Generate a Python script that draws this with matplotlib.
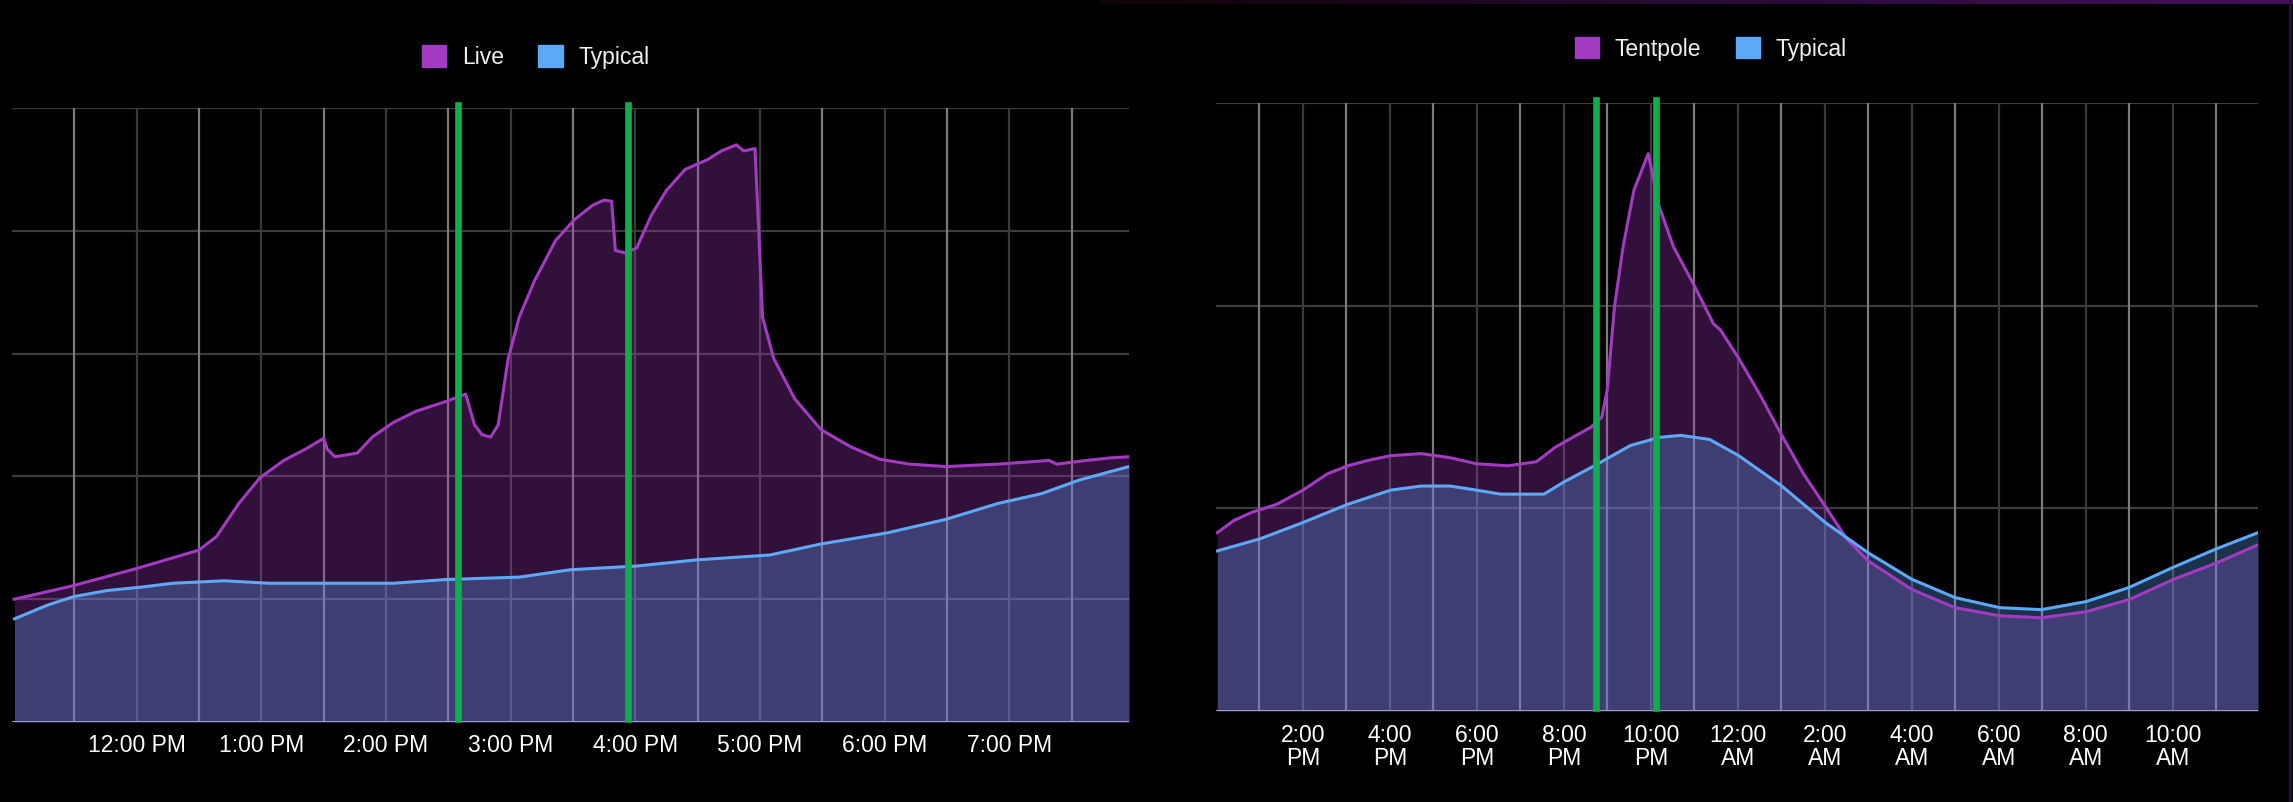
import numpy as np
import matplotlib.pyplot as plt
from matplotlib.patches import Patch
from matplotlib.colors import LinearSegmentedColormap

plt.rcParams['font.family'] = ['Liberation Sans', 'DejaVu Sans']

# colours
purple = '#a33bc2'
blue = '#5ea8f8'
green = '#0eae4a'

# ---- left chart: Live vs Typical (hours of day) ----
live_hours = [11.02, 11.49, 12.00, 12.50, 12.64, 12.82, 12.99, 13.18, 13.35, 13.50,
              13.53, 13.59, 13.77, 13.89, 14.06, 14.24, 14.48, 14.64, 14.71, 14.77,
              14.84, 14.90, 14.98, 15.07, 15.19, 15.36, 15.51, 15.66, 15.75, 15.81,
              15.84, 15.92, 16.01, 16.13, 16.25, 16.40, 16.58, 16.69, 16.81, 16.87,
              16.96, 16.99, 17.02, 17.11, 17.28, 17.49, 17.73, 17.96, 18.20, 18.49,
              18.91, 19.32, 19.38, 19.62, 19.80, 19.96]
live_vals = [1.00, 1.11, 1.25, 1.40, 1.51, 1.78, 1.99, 2.13, 2.22, 2.31,
             2.22, 2.16, 2.19, 2.32, 2.44, 2.53, 2.61, 2.67, 2.42, 2.34,
             2.32, 2.42, 2.96, 3.30, 3.59, 3.92, 4.09, 4.21, 4.25, 4.24,
             3.84, 3.82, 3.86, 4.13, 4.33, 4.50, 4.58, 4.65, 4.70, 4.65,
             4.67, 4.00, 3.30, 2.96, 2.63, 2.38, 2.24, 2.14, 2.10, 2.08,
             2.10, 2.13, 2.10, 2.13, 2.15, 2.16]

typ_left_hours = [11.02, 11.28, 11.49, 11.76, 12.05, 12.29, 12.70, 13.06, 13.59, 14.06,
                  14.48, 15.07, 15.48, 16.01, 16.49, 17.08, 17.49, 18.02, 18.49, 18.91,
                  19.26, 19.56, 19.96]
typ_left_vals = [0.84, 0.95, 1.02, 1.07, 1.10, 1.13, 1.15, 1.13, 1.13, 1.13,
                 1.16, 1.18, 1.24, 1.27, 1.32, 1.36, 1.45, 1.54, 1.65, 1.78,
                 1.86, 1.97, 2.08]

left_ticks = [12, 13, 14, 15, 16, 17, 18, 19]
left_labels = ['12:00 PM', '1:00 PM', '2:00 PM', '3:00 PM', '4:00 PM',
               '5:00 PM', '6:00 PM', '7:00 PM']
left_markers = [14.58, 15.94]

# ---- right chart: Tentpole vs Typical (hours from midnight, day 1) ----
tent_hours = [12.03, 12.41, 12.82, 13.40, 14.00, 14.56, 15.03, 15.56, 16.02, 16.72,
              17.38, 17.99, 18.71, 19.37, 19.79, 20.20, 20.62, 20.87, 21.00, 21.16,
              21.36, 21.61, 21.94, 22.19, 22.52, 23.02, 23.44, 23.60, 24.02, 24.51,
              25.01, 25.51, 26.01, 26.50, 27.00, 28.00, 28.99, 30.02, 30.98, 32.01,
              33.00, 34.02, 35.00, 35.96]
tent_vals = [0.88, 0.94, 0.98, 1.02, 1.09, 1.17, 1.21, 1.24, 1.26, 1.27,
             1.25, 1.22, 1.21, 1.23, 1.30, 1.35, 1.40, 1.45, 1.59, 1.99,
             2.29, 2.57, 2.75, 2.49, 2.29, 2.09, 1.91, 1.88, 1.74, 1.56,
             1.36, 1.17, 1.01, 0.85, 0.74, 0.60, 0.51, 0.47, 0.46, 0.49,
             0.55, 0.65, 0.73, 0.82]

typ_right_hours = [12.03, 13.02, 14.00, 15.03, 16.02, 16.72, 17.38, 17.99, 18.54, 19.54,
                   20.00, 20.70, 21.53, 22.19, 22.69, 23.35, 24.02, 25.01, 26.01, 27.00,
                   28.00, 28.99, 30.02, 30.98, 32.01, 33.00, 34.02, 35.00, 35.96]
typ_right_vals = [0.79, 0.85, 0.93, 1.02, 1.09, 1.11, 1.11, 1.09, 1.07, 1.07,
                  1.13, 1.21, 1.31, 1.35, 1.36, 1.34, 1.26, 1.11, 0.93, 0.78,
                  0.65, 0.56, 0.51, 0.50, 0.54, 0.61, 0.71, 0.80, 0.88]

right_ticks = [14, 16, 18, 20, 22, 24, 26, 28, 30, 32, 34]
right_labels = ['2:00\nPM', '4:00\nPM', '6:00\nPM', '8:00\nPM', '10:00\nPM', '12:00\nAM',
                '2:00\nAM', '4:00\nAM', '6:00\nAM', '8:00\nAM', '10:00\nAM']
right_markers = [20.73, 22.11]


def draw_panel(ax, xs1, ys1, xs2, ys2, xlim, ymax, ticks, labels, bright, markers, name1):
    ax.set_facecolor('black')
    ax.set_xlim(*xlim)
    ax.set_ylim(0, ymax)
    # grid lines sit under the translucent areas
    for y in range(1, ymax + 1):
        ax.axhline(y, color='#3c3c3c', lw=1.6, zorder=0)
    for x in ticks:
        ax.axvline(x, color='#3a3a3a', lw=1.6, zorder=0)
    for x in bright:
        ax.axvline(x, color='#7a7a7a', lw=1.6, zorder=0)

    ax.fill_between(xs1, 0, ys1, color=purple, alpha=0.3, lw=0, zorder=1)
    ax.fill_between(xs2, 0, ys2, color=blue, alpha=0.3, lw=0, zorder=2)
    ax.plot(xs1, ys1, color=purple, lw=2.2, zorder=3, solid_joinstyle='round')
    ax.plot(xs2, ys2, color=blue, lw=2.2, zorder=4, solid_joinstyle='round')
    ax.axhline(0, color='#9a9ad2', lw=2.2, zorder=5)

    for m in markers:
        ax.axvline(m, ymin=0.005, ymax=1.005, color=green, lw=4.8, zorder=6, clip_on=False)

    ax.set_xticks(ticks)
    ax.set_xticklabels(labels, color='white', fontsize=16.5, linespacing=1.05)
    ax.tick_params(axis='x', length=0, pad=9)
    ax.set_yticks([])
    for s in ax.spines.values():
        s.set_visible(False)

    handles = [Patch(facecolor=purple, edgecolor=purple, label=name1),
               Patch(facecolor=blue, edgecolor=blue, label='Typical')]
    return handles


fig = plt.figure(figsize=(22.93, 8.02), dpi=100, facecolor='black')

ax1 = fig.add_axes([12 / 2293, 80 / 802, 1117 / 2293, 614 / 802])
h1 = draw_panel(ax1, live_hours, live_vals, typ_left_hours, typ_left_vals,
                (11.0, 19.96), 5, left_ticks, left_labels,
                [t + 0.5 for t in [11] + left_ticks], left_markers, 'Live')
leg1 = ax1.legend(handles=h1, loc='center', bbox_to_anchor=(0.469, 1.083), ncol=2,
                  frameon=False, fontsize=16.5, handlelength=1.05, handleheight=1.05,
                  handletextpad=0.7, columnspacing=1.5)
for t in leg1.get_texts():
    t.set_color('#f0f0f0')

ax2 = fig.add_axes([1216 / 2293, 91 / 802, 1042 / 2293, 608 / 802])
h2 = draw_panel(ax2, tent_hours, tent_vals, typ_right_hours, typ_right_vals,
                (12.0, 35.96), 3, right_ticks, right_labels,
                [t - 1 for t in right_ticks] + [35], right_markers, 'Tentpole')
leg2 = ax2.legend(handles=h2, loc='center', bbox_to_anchor=(0.475, 1.089), ncol=2,
                  frameon=False, fontsize=16.5, handlelength=1.05, handleheight=1.05,
                  handletextpad=0.7, columnspacing=1.5)
for t in leg2.get_texts():
    t.set_color('#f0f0f0')

# faint purple edge of the second screenshot (top strip and right edge)
edge_cmap = LinearSegmentedColormap.from_list('edge', ['#100306', '#2a0a36', '#45105c'])
strip = fig.add_axes([1100 / 2293, 1 - 4 / 802, 1193 / 2293, 4 / 802])
strip.imshow(np.linspace(0, 1, 200)[None, :], aspect='auto', cmap=edge_cmap)
strip.axis('off')
side = fig.add_axes([2289 / 2293, 0, 3 / 2293, 1])
side.set_facecolor('#2c0a3c')
side.set_xticks([])
side.set_yticks([])
for s in side.spines.values():
    s.set_visible(False)

fig.savefig('out.png', dpi=100, facecolor='black')
